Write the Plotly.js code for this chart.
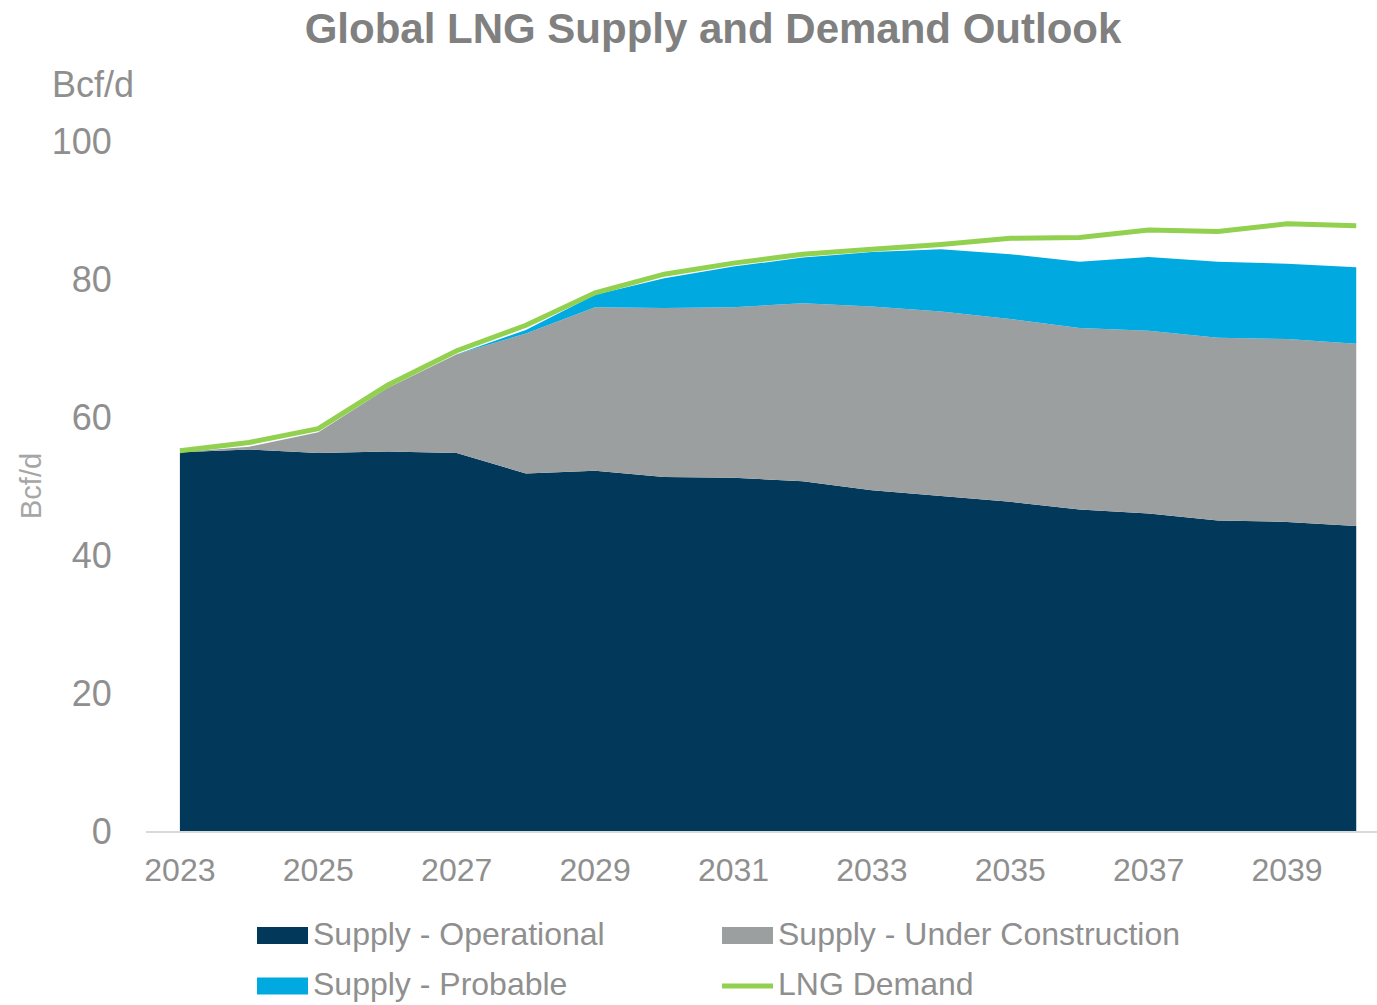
<!DOCTYPE html>
<html>
<head>
<meta charset="utf-8">
<script src="https://cdn.plot.ly/plotly-3.0.1.min.js"></script>
<style>html,body{margin:0;padding:0;background:#fff;}#chart{width:1377px;height:1005px;}</style>
</head>
<body>
<div id="chart"></div>
<script>
// ---- data ----
const years = [2023,2024,2025,2026,2027,2028,2029,2030,2031,2032,2033,2034,2035,2036,2037,2038,2039,2040];
const operational = [54.9,55.3,54.8,55.0,54.8,51.8,52.2,51.3,51.2,50.7,49.4,48.6,47.7,46.6,46.0,45.0,44.8,44.2];
const underConstruction = [0.0,0.4,3.0,9.2,14.3,20.3,23.7,24.5,24.7,25.8,26.6,26.7,26.5,26.3,26.5,26.5,26.5,26.4];
const probable = [0.0,0.0,0.0,0.0,0.0,0.5,1.8,4.3,5.9,6.6,7.9,9.0,9.4,9.6,10.7,11.0,10.9,11.1];
const demand = [55.1,56.3,58.3,64.6,69.6,73.3,78.0,80.7,82.3,83.6,84.3,85.0,85.9,86.0,87.1,86.9,88.0,87.7];
const seriesNames = ["Supply - Operational","Supply - Under Construction","Supply - Probable","LNG Demand"];
const yTicks = [0,20,40,60,80,100];
const xTicks = [2023,2025,2027,2029,2031,2033,2035,2037,2039];
const titleText = "Global LNG Supply and Demand Outlook";
const unitText = "Bcf/d";

// ---- style ----
const colors = ["#02395A","#9C9FA0","#00A9DF","#92D050"];
const font = "'Liberation Sans', Arial, sans-serif";
const W = 1377, H = 1005;
const mL = 146, mR = 0, mT = 141, mB = 174;
const pw = W - mL - mR, ph = H - mT - mB;
const px = p => (p - mL) / pw;
const py = p => (H - mB - p) / ph;

const traces = [
  {x: years, y: operational, name: seriesNames[0], type: 'scatter', mode: 'lines', stackgroup: 's',
   line: {width: 0, color: colors[0]}, fillcolor: colors[0], showlegend: false},
  {x: years, y: underConstruction, name: seriesNames[1], type: 'scatter', mode: 'lines', stackgroup: 's',
   line: {width: 0, color: colors[1]}, fillcolor: colors[1], showlegend: false},
  {x: years, y: probable, name: seriesNames[2], type: 'scatter', mode: 'lines', stackgroup: 's',
   line: {width: 0, color: colors[2]}, fillcolor: colors[2], showlegend: false},
  {x: years, y: demand, name: seriesNames[3], type: 'scatter', mode: 'lines',
   line: {width: 5, color: colors[3]}, showlegend: false}
];

// custom legend
const legendCols = [257, 722];
const legendRows = [935.5, 986];
const shapes = [];
const annotations = [];
seriesNames.forEach((name, i) => {
  const col = i === 0 || i === 2 ? 0 : 1;
  const row = i < 2 ? 0 : 1;
  const x0 = legendCols[col], x1 = x0 + 51;
  const yc = legendRows[row];
  if (i === 3) {
    shapes.push({type: 'line', xref: 'paper', yref: 'paper', x0: px(x0), x1: px(x1), y0: py(yc), y1: py(yc),
      line: {color: colors[i], width: 5}});
  } else {
    shapes.push({type: 'rect', xref: 'paper', yref: 'paper', x0: px(x0), x1: px(x1), y0: py(yc - 8.5), y1: py(yc + 8.5),
      fillcolor: colors[i], line: {width: 0}});
  }
  annotations.push({xref: 'paper', yref: 'paper', x: px(x1 + 3), y: py(yc - 2), xanchor: 'left', yanchor: 'middle',
    text: name, showarrow: false, font: {family: font, size: 32, color: '#8F8F8F'}});
});
annotations.push({xref: 'paper', yref: 'paper', x: px(50), y: py(84), xanchor: 'left', yanchor: 'middle',
  text: unitText, showarrow: false, font: {family: font, size: 36, color: '#8F8F8F'}});
annotations.push({xref: 'paper', yref: 'paper', x: px(31), y: py(486), xanchor: 'center', yanchor: 'middle',
  text: unitText, textangle: -90, showarrow: false, font: {family: font, size: 29, color: '#A6A6A6'}});

const layout = {
  width: W, height: H,
  margin: {l: mL, r: mR, t: mT, b: mB},
  paper_bgcolor: '#fff', plot_bgcolor: '#fff',
  title: {text: titleText, xref: 'paper', x: px(713), xanchor: 'center', yref: 'container', y: 1 - 28/H, yanchor: 'middle',
    font: {family: font, size: 42, color: '#808080', weight: 'bold'}},
  xaxis: {range: [2022.51, 2040.3], tickvals: xTicks, ticktext: xTicks.map(String), showgrid: false, zeroline: false,
    showline: true, linecolor: '#D9D9D9', linewidth: 2, ticks: 'outside', ticklen: 10, tickcolor: 'rgba(0,0,0,0)',
    tickfont: {family: font, size: 32, color: '#8F8F8F'}, fixedrange: true},
  yaxis: {range: [0, 100], tickvals: yTicks, showgrid: false, zeroline: false, showline: false,
    ticks: 'outside', ticklen: 26, tickcolor: 'rgba(0,0,0,0)',
    tickfont: {family: font, size: 36, color: '#8F8F8F'}, fixedrange: true},
  shapes: shapes,
  annotations: annotations,
  hovermode: false
};

Plotly.newPlot('chart', traces, layout, {displayModeBar: false, staticPlot: true});
</script>
</body>
</html>
